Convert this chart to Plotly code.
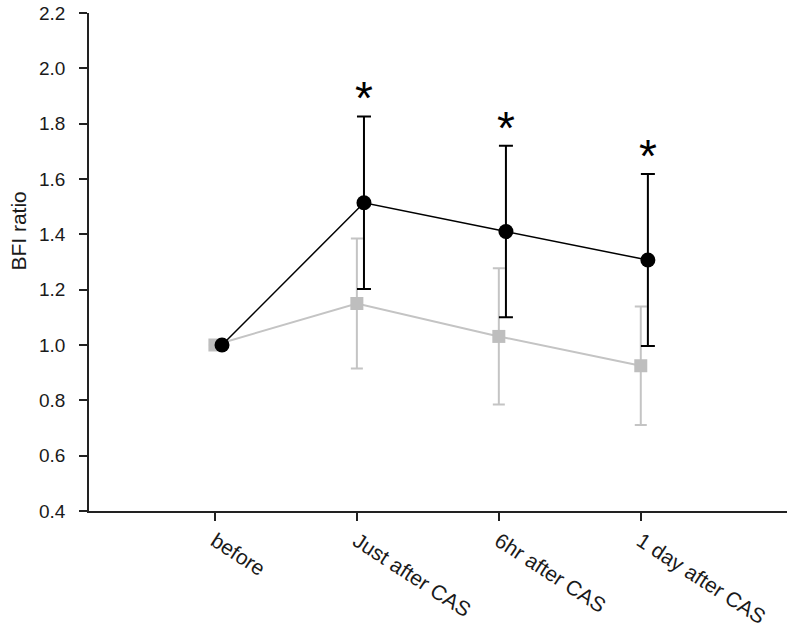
import plotly.graph_objects as go

categories = ["before", "Just after CAS", "6hr after CAS", "1 day after CAS"]
black_mean = [1.0, 1.514, 1.410, 1.307]
black_sd = [None, 0.312, 0.310, 0.311]
gray_mean = [1.0, 1.150, 1.031, 0.925]
gray_sd = [None, 0.235, 0.246, 0.214]
significant = [False, True, True, True]
y_ticks = [0.4, 0.6, 0.8, 1.0, 1.2, 1.4, 1.6, 1.8, 2.0, 2.2]

xpos = [i + 1 for i in range(len(categories))]
black_offset = 0.05
xblack = [x + black_offset for x in xpos]

fig = go.Figure()
fig.add_trace(go.Scatter(
    x=xpos, y=gray_mean, mode="lines+markers",
    line=dict(color="#C4C4C4", width=2),
    marker=dict(symbol="square", size=13, color="#BEBEBE"),
    error_y=dict(type="data", array=gray_sd, visible=True, color="#C4C4C4", thickness=2, width=6),
    showlegend=False,
))
fig.add_trace(go.Scatter(
    x=xblack, y=black_mean, mode="lines+markers",
    line=dict(color="#000000", width=1.5),
    marker=dict(symbol="circle", size=15, color="#000000"),
    error_y=dict(type="data", array=black_sd, visible=True, color="#000000", thickness=2, width=7),
    showlegend=False,
))

for xb, m, s, sig in zip(xblack, black_mean, black_sd, significant):
    if sig:
        fig.add_annotation(x=xb, y=m + s, text="*", showarrow=False,
                           yanchor="bottom", yshift=-10,
                           font=dict(family="Liberation Sans, Arial", size=46, color="#000000"))

# y-axis title as annotation (placed higher than axis centre, as in the reference)
fig.add_annotation(xref="paper", x=0, xshift=-70, yref="y", y=1.41,
                   text="BFI ratio", textangle=-90, showarrow=False,
                   xanchor="center", yanchor="middle",
                   font=dict(family="Liberation Sans, Arial", size=21, color="#1a1a1a"))

fig.update_layout(
    width=787, height=634,
    margin=dict(l=89, r=0, t=13, b=123),
    paper_bgcolor="white", plot_bgcolor="white",
    font=dict(family="Liberation Sans, Arial", size=19, color="#1a1a1a"),
)
fig.update_xaxes(
    range=[0.113, 5.03], tickvals=xpos, ticktext=categories, tickangle=33,
    showgrid=False, zeroline=False, showline=True, linecolor="#222222", linewidth=1.5,
    ticks="outside", ticklen=8, tickcolor="#222222", tickwidth=1.5,
    tickfont=dict(size=21), automargin=False,
)
fig.update_yaxes(
    range=[0.4, 2.2], tickvals=y_ticks, ticktext=[f"{v:.1f}" for v in y_ticks],
    showgrid=False, zeroline=False, showline=True, linecolor="#222222", linewidth=1.5,
    ticks="outside", ticklen=8, tickcolor="#222222", tickwidth=1.5,
    tickfont=dict(size=19), ticklabelstandoff=10, automargin=False,
)

fig.write_html("out.html", config={"displayModeBar": False},
               post_script="document.body.style.margin='0';")
